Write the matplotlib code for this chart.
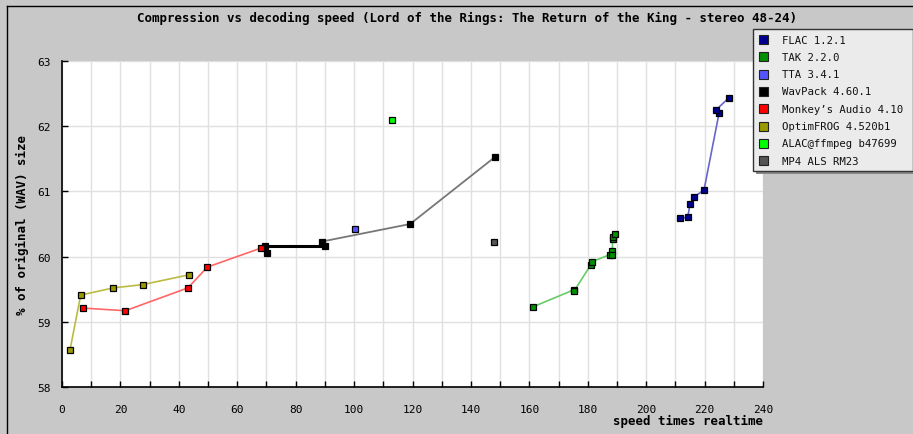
import matplotlib
matplotlib.use("Agg")
import matplotlib.pyplot as plt
from matplotlib.lines import Line2D
from matplotlib.patches import Rectangle

plt.rcParams['font.family'] = ['DejaVu Sans Mono']

# ---- data ----
flac_x = [211.7, 214.2, 215.0, 216.5, 219.8, 225.0, 223.9, 228.2]
flac_y = [60.59, 60.60, 60.80, 60.92, 61.02, 62.21, 62.25, 62.43]

tak_x = [161.3, 175.2, 175.3, 181.0, 181.3, 187.6, 188.4, 188.4, 188.5, 188.7, 189.4]
tak_y = [59.23, 59.49, 59.47, 59.87, 59.92, 60.03, 60.08, 60.02, 60.27, 60.30, 60.35]

tta_x = [100.4]
tta_y = [60.42]

wv_main_x = [148.3, 119.2, 88.9]
wv_main_y = [61.53, 60.50, 60.23]
wv_extra_x = [90.0, 69.6]
wv_extra_y = [60.17, 60.17]
wv_single_x = [70.1]
wv_single_y = [60.05]

ape_x = [7.2, 21.7, 43.1, 49.8, 68.1]
ape_y = [59.21, 59.17, 59.52, 59.84, 60.13]

ofr_x = [2.7, 6.4, 17.6, 27.6, 43.4]
ofr_y = [58.56, 59.41, 59.52, 59.57, 59.72]

alac_x = [112.9]
alac_y = [62.10]

als_x = [148.0]
als_y = [60.23]

legend_labels = ["FLAC 1.2.1", "TAK 2.2.0", "TTA 3.4.1", "WavPack 4.60.1",
                 "Monkey\u2019s Audio 4.10", "OptimFROG 4.520b1",
                 "ALAC@ffmpeg b47699", "MP4 ALS RM23"]
legend_colors = ["#000090", "#009000", "#5555ff", "#000000",
                 "#ff0000", "#999900", "#00ff00", "#555555"]

x_ticks = [0, 20, 40, 60, 80, 100, 120, 140, 160, 180, 200, 220, 240]
y_ticks = [58, 59, 60, 61, 62, 63]

W, H = 913, 435
fig = plt.figure(figsize=(W / 100, H / 100), dpi=100)
fig.patch.set_facecolor("#c8c8c8")

# outer border (left & top)
fig.add_artist(Line2D([7 / W, 7 / W], [0, 1 - 7 / H], transform=fig.transFigure,
                      color="black", lw=1.0))
fig.add_artist(Line2D([7 / W, 1], [1 - 7 / H, 1 - 7 / H], transform=fig.transFigure,
                      color="black", lw=1.0))

ax = fig.add_axes([62 / W, 1 - 388 / H, (763 - 62) / W, (388 - 62) / H])
ax.set_facecolor("white")
ax.set_xlim(0, 240)
ax.set_ylim(58, 63)

for s in ["top", "right"]:
    ax.spines[s].set_visible(False)
for s in ["left", "bottom"]:
    ax.spines[s].set_color("black")
    ax.spines[s].set_linewidth(1.2)

ax.set_xticks(x_ticks)
ax.set_xticks(list(range(10, 240, 20)), minor=True)
ax.set_yticks(y_ticks)
ax.tick_params(axis="both", which="both", direction="in", length=4, width=1,
               labelsize=8, colors="black", pad=8)
ax.tick_params(axis="x", which="major", pad=12)
ax.grid(True, which="both", color="#e0e0e0", lw=1.0)
ax.set_axisbelow(True)

ms = 4.4
mk = dict(marker="s", markersize=ms, markeredgecolor="black", markeredgewidth=0.9)

ax.plot(flac_x, flac_y, color="#6666cc", lw=1.2, markerfacecolor="#000090", **mk, zorder=4)
ax.plot(tak_x, tak_y, color="#66cc66", lw=1.2, markerfacecolor="#009000", **mk, zorder=4)
ax.plot(tta_x, tta_y, ls="none", markerfacecolor="#5555ff", **mk, zorder=4)
ax.plot(wv_main_x, wv_main_y, color="#777777", lw=1.3, markerfacecolor="#000000", **mk, zorder=4)
ax.plot(wv_extra_x, wv_extra_y, color="#000000", lw=2.2, markerfacecolor="#000000", **mk, zorder=4)
ax.plot(wv_single_x, wv_single_y, ls="none", markerfacecolor="#000000", **mk, zorder=4)
ax.plot(ape_x, ape_y, color="#ff6666", lw=1.2, markerfacecolor="#ff0000", **mk, zorder=5)
ax.plot(ofr_x, ofr_y, color="#bbbb44", lw=1.2, markerfacecolor="#999900", **mk, zorder=4)
ax.plot(alac_x, alac_y, ls="none", markerfacecolor="#00ff00", **mk, zorder=4)
ax.plot(als_x, als_y, ls="none", markerfacecolor="#555555", **mk, zorder=4)

fig.text(467 / W, 1 - 18 / H,
         "Compression vs decoding speed (Lord of the Rings: The Return of the King - stereo 48-24)",
         ha="center", va="center", fontsize=9.0, fontweight="bold")
fig.text(763 / W, 1 - 421 / H, "speed times realtime", ha="right", va="center",
         fontsize=9.0, fontweight="bold")
fig.text(22 / W, 1 - 225 / H, "% of original (WAV) size", ha="center", va="center",
         rotation=90, fontsize=9.0, fontweight="bold")

# legend box
lx0, ly0, lx1, ly1 = 753, 30, 913, 172
fig.add_artist(Rectangle((lx0 / W + 3 / W, 1 - (ly1 + 3) / H), (lx1 - lx0) / W, (ly1 - ly0) / H,
                         transform=fig.transFigure, facecolor="#888888", edgecolor="none", zorder=9))
fig.add_artist(Rectangle((lx0 / W, 1 - ly1 / H), (lx1 - lx0) / W, (ly1 - ly0) / H,
                         transform=fig.transFigure, facecolor="#ebebeb", edgecolor="#333333",
                         lw=1.0, zorder=10))
for i, (lab, col) in enumerate(zip(legend_labels, legend_colors)):
    yy = 40.5 + i * 17.3
    fig.add_artist(Rectangle((759 / W, 1 - (yy + 4.5) / H), 9 / W, 9 / H,
                             transform=fig.transFigure, facecolor=col, edgecolor="#222222",
                             lw=0.8, zorder=11))
    fig.text(782 / W, 1 - yy / H, lab, ha="left", va="center", fontsize=7.7, zorder=12,
             color="#111111")

fig.savefig("out.png", dpi=100, facecolor=fig.get_facecolor())
